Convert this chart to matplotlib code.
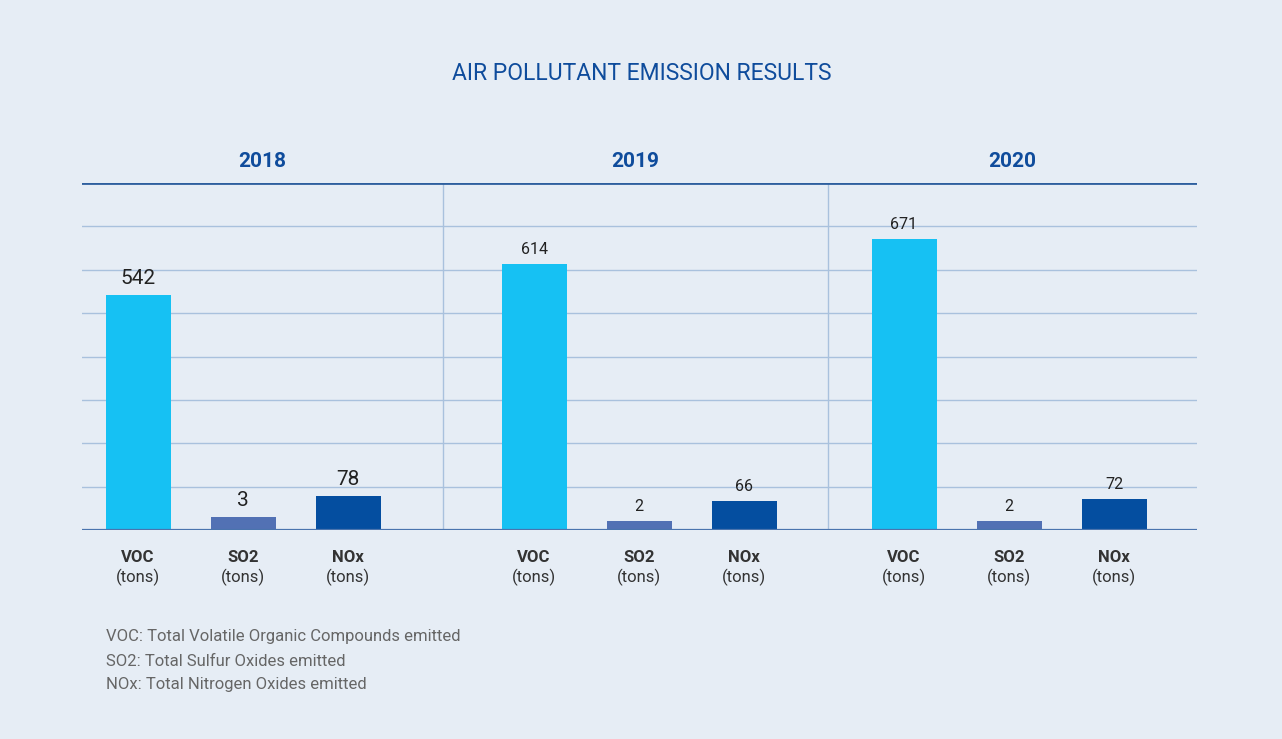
#!/usr/bin/python3

import numpy as np
import matplotlib.pyplot as plt

# data
years = ["2018", "2019", "2020"]
pollutants = ["VOC", "SO2", "NOx"]
voc = [542, 614, 671]
so2 = [3, 2, 2]
nox = [78, 66, 72]
footnotes = [
    "VOC: Total Volatile Organic Compounds emitted",
    "SO2: Total Sulfur Oxides emitted",
    "NOx: Total Nitrogen Oxides emitted",
]

BG = "#E6EDF5"
COLORS = ["#16C1F3", "#5271B4", "#044EA0"]
DARK = "#0F4C9C"
GRID = "#A9C1DD"


def main():
    plt.rcParams["font.family"] = ["Roboto", "DejaVu Sans"]
    fig = plt.figure(figsize=(12.82, 7.39), dpi=100, facecolor=BG)
    ax = fig.add_axes([82 / 1282, 1 - 530 / 739, 1115 / 1282, 347 / 739])
    ax.set_facecolor(BG)

    group_start = [56, 452, 822]
    group_edges = [0, 361, 746, 1115]
    offsets = [0, 105, 210]
    values = np.array([voc, so2, nox])  # rows: pollutant, cols: year
    label_size = [15, 11.5, 11.5]

    for j, (p, c) in enumerate(zip(pollutants, COLORS)):
        xs = [group_start[g] + offsets[j] for g in range(3)]
        v = values[j]
        # tiny values get an exaggerated height so the bar stays visible
        shown = np.where(v < 10, v * 10, v)
        ax.bar(xs, shown, width=65, color=c, zorder=3)
        for g, x in enumerate(xs):
            ax.annotate(str(v[g]), (x, shown[g]), xytext=(0, 5),
                        textcoords="offset points", ha="center", va="bottom",
                        fontsize=label_size[g], color="#222222")
            ax.text(x, -0.08, p, transform=ax.get_xaxis_transform(),
                    ha="center", va="center", fontsize=12, fontweight="bold",
                    color="#333333")
            ax.text(x, -0.137, "(tons)", transform=ax.get_xaxis_transform(),
                    ha="center", va="center", fontsize=12, color="#333333")

    ax.set_xlim(0, 1115)
    ax.set_ylim(0, 800)
    for y in range(100, 800, 100):
        ax.axhline(y, color=GRID, lw=1, zorder=1)
    ax.axhline(800, color="#2E5F9E", lw=2, zorder=2)
    ax.axhline(0, color="#4A74AE", lw=1.6, zorder=4)
    for x in group_edges[1:-1]:
        ax.axvline(x, color=GRID, lw=1, zorder=1)

    for g, yr in enumerate(years):
        mid = (group_edges[g] + group_edges[g + 1]) / 2
        ax.text(mid, 1.063, yr, transform=ax.get_xaxis_transform(),
                ha="center", va="center", fontsize=15, fontweight="bold",
                color=DARK)

    for s in ax.spines.values():
        s.set_visible(False)
    ax.set_xticks([])
    ax.set_yticks([])

    fig.text(642 / 1282, 1 - 73 / 739, "AIR POLLUTANT EMISSION RESULTS",
             ha="center", va="center", fontsize=16.5, color=DARK)
    for i, line in enumerate(footnotes):
        fig.text(106 / 1282, 1 - (637 + 24 * i) / 739, line,
                 ha="left", va="center", fontsize=12, color="#666666")

    fig.savefig("out.png", dpi=100, facecolor=BG)


if __name__ == "__main__":
    main()
